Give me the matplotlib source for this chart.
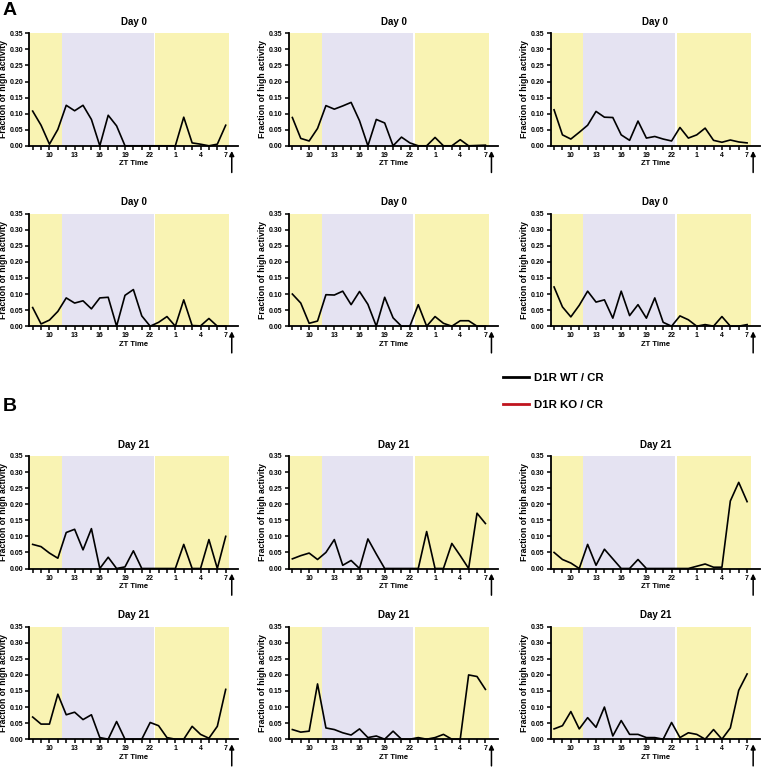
import matplotlib
matplotlib.use('Agg')
import matplotlib.pyplot as plt
from matplotlib.lines import Line2D

plt.rcParams['font.family'] = ['Liberation Sans', 'DejaVu Sans']
plt.rcParams['font.weight'] = 'bold'

# ---------------- data ----------------
zt_hours = [8, 9, 10, 11, 12, 13, 14, 15, 16, 17, 18, 19, 20, 21, 22, 23,
            0, 1, 2, 3, 4, 5, 6, 7]
tick_hours = [10, 13, 16, 19, 22, 1, 4, 7]
tick_labels = ['10', '13', '16', '19', '22', '1', '4', '7']
y_ticks = [0.00, 0.05, 0.10, 0.15, 0.20, 0.25, 0.30, 0.35]

a1 = [0.108, 0.064, 0.005, 0.051, 0.126, 0.109, 0.126, 0.082, 0.0, 0.095, 0.062, 0.0,
      0.0, 0.0, 0.0, 0.0, 0.0, 0.0, 0.089, 0.009, 0.005, 0.0, 0.005, 0.064]
a2 = [0.088, 0.023, 0.015, 0.054, 0.125, 0.114, 0.124, 0.135, 0.078, 0.0, 0.082, 0.071,
      0.0, 0.027, 0.009, 0.0, 0.0, 0.026, 0.0, 0.0, 0.019, 0.0, 0.001, 0.002]
a3 = [0.112, 0.034, 0.021, 0.042, 0.064, 0.107, 0.089, 0.088, 0.034, 0.017, 0.077, 0.024,
      0.029, 0.021, 0.015, 0.057, 0.024, 0.034, 0.055, 0.017, 0.011, 0.018, 0.012, 0.009]
a4 = [0.058, 0.007, 0.019, 0.046, 0.088, 0.072, 0.079, 0.054, 0.088, 0.090, 0.0, 0.096,
      0.114, 0.032, 0.0, 0.012, 0.030, 0.0, 0.082, 0.002, 0.001, 0.024, 0.0, 0.0]
a5 = [0.100, 0.072, 0.009, 0.016, 0.098, 0.097, 0.109, 0.067, 0.108, 0.068, 0.0, 0.090,
      0.026, 0.0, 0.0, 0.067, 0.0, 0.030, 0.009, 0.0, 0.017, 0.017, 0.0, 0.0]
a6 = [0.122, 0.060, 0.029, 0.065, 0.109, 0.075, 0.082, 0.025, 0.109, 0.033, 0.067, 0.025,
      0.088, 0.012, 0.0, 0.032, 0.020, 0.0, 0.005, 0.0, 0.030, 0.0, 0.0, 0.005]
b1 = [0.075, 0.068, 0.048, 0.032, 0.112, 0.122, 0.058, 0.124, 0.0, 0.035, 0.0, 0.005,
      0.055, 0.0, 0.0, 0.0, 0.0, 0.0, 0.075, 0.0, 0.0, 0.090, 0.0, 0.100]
b2 = [0.030, 0.040, 0.048, 0.028, 0.050, 0.090, 0.010, 0.025, 0.0, 0.092, 0.045, 0.0,
      0.0, 0.0, 0.0, 0.0, 0.115, 0.0, 0.0, 0.078, 0.040, 0.0, 0.172, 0.140]
b3 = [0.050, 0.028, 0.017, 0.0, 0.075, 0.010, 0.060, 0.030, 0.0, 0.0, 0.028, 0.0,
      0.0, 0.0, 0.0, 0.0, 0.0, 0.007, 0.014, 0.004, 0.004, 0.210, 0.268, 0.208]
b4 = [0.069, 0.047, 0.047, 0.140, 0.076, 0.084, 0.061, 0.076, 0.005, 0.0, 0.055, 0.0,
      0.0, 0.0, 0.052, 0.042, 0.005, 0.0, 0.0, 0.040, 0.015, 0.003, 0.040, 0.155]
b5 = [0.030, 0.022, 0.025, 0.172, 0.035, 0.030, 0.020, 0.013, 0.032, 0.005, 0.010, 0.0,
      0.025, 0.0, 0.0, 0.005, 0.0, 0.005, 0.015, 0.0, 0.0, 0.200, 0.195, 0.155]
b6 = [0.032, 0.042, 0.086, 0.032, 0.067, 0.037, 0.100, 0.010, 0.058, 0.015, 0.015, 0.005,
      0.005, 0.0, 0.052, 0.005, 0.020, 0.015, 0.0, 0.030, 0.0, 0.035, 0.152, 0.203]

panels = [("Day 0", a1), ("Day 0", a2), ("Day 0", a3),
          ("Day 0", a4), ("Day 0", a5), ("Day 0", a6),
          ("Day 21", b1), ("Day 21", b2), ("Day 21", b3),
          ("Day 21", b4), ("Day 21", b5), ("Day 21", b6)]
legend_labels = ['D1R WT / CR', 'D1R KO / CR']
legend_colors = ['black', '#c0141e']

# ---------------- layout ----------------
W, H = 764, 767
fig = plt.figure(figsize=(W / 100, H / 100), dpi=100)

YELLOW = '#f9f3b3'
LAVENDER = '#e5e3f2'

# continuous position along the recording (ZT8 .. ZT7 next day)
def pos(h):
    return h if h >= 8 else h + 24

xpos = [pos(h) for h in zt_hours]
tick_pos = [pos(h) for h in tick_hours]

col_left = [29.3, 289.0, 550.7]
rows_top = [33.3, 213.7, 456.0, 626.7]
ax_w, ax_h = 209.0, 112.5

for i, (title, vals) in enumerate(panels):
    r, c = divmod(i, 3)
    left = col_left[c] / W
    bottom = 1 - (rows_top[r] + ax_h) / H
    ax = fig.add_axes([left, bottom, ax_w / W, ax_h / H])
    ax.axvspan(7.6, 11.5, color=YELLOW, lw=0, zorder=0)
    ax.axvspan(11.5, 22.42, color=LAVENDER, lw=0, zorder=0)
    ax.axvspan(22.6, 31.45, color=YELLOW, lw=0, zorder=0)
    ax.plot(xpos, vals, color='black', lw=1.2, zorder=3, clip_on=False)
    ax.set_xlim(7.6, 32.5)
    ax.set_ylim(0, 0.35)
    for s in ('top', 'right'):
        ax.spines[s].set_visible(False)
    for s in ('left', 'bottom'):
        ax.spines[s].set_linewidth(1.3)
    ax.set_xticks(tick_pos)
    ax.set_xticklabels(tick_labels)
    ax.set_xticks([p for p in xpos if p not in tick_pos], minor=True)
    ax.set_yticks(y_ticks)
    ax.set_yticklabels(['%.2f' % v for v in y_ticks])
    ax.tick_params(which='both', direction='out', length=3, width=1.1,
                   labelsize=5, pad=1.5)
    ax.set_title(title, fontsize=7, fontweight='bold', pad=6)
    ax.set_xlabel('ZT Time', fontsize=5.5, fontweight='bold', labelpad=1)
    ax.set_ylabel('Fraction of high activity', fontsize=6.2, fontweight='bold',
                  labelpad=1.2)
    ax.annotate('', xy=(31.72, -0.016), xytext=(31.72, -0.083),
                xycoords='data', annotation_clip=False,
                arrowprops=dict(arrowstyle='-|>', color='black', lw=1.1,
                                mutation_scale=7, shrinkA=0, shrinkB=0))

fig.text(3 / W, 1 - 2 / H, 'A', fontsize=14, fontweight='bold', va='top', ha='left')
fig.text(3 / W, 1 - 398 / H, 'B', fontsize=14, fontweight='bold', va='top', ha='left')

handles = [Line2D([], [], color=col, lw=2) for col in legend_colors]
fig.legend(handles, legend_labels, loc='upper left',
           bbox_to_anchor=(503 / W, 1 - 373 / H), frameon=False,
           prop={'size': 8.2, 'weight': 'bold'}, handlelength=2.3,
           handletextpad=0.45, labelspacing=1.45, borderaxespad=0, borderpad=0)

fig.savefig('out.png', dpi=100)
